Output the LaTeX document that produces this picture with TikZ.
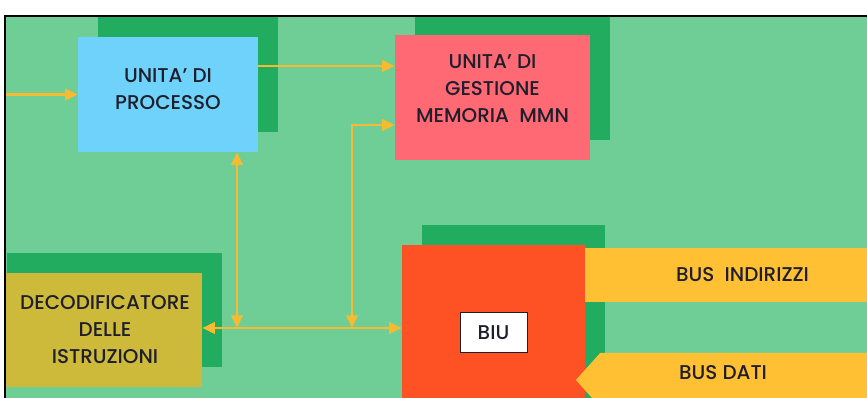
\documentclass[tikz,border=0pt]{standalone}
\usepackage{fontspec}
\setmainfont{Poppins}[UprightFont={* Medium}]
\usetikzlibrary{positioning,arrows.meta,shadows,shapes.symbols}
\definecolor{fondo}{RGB}{110,206,150}
\definecolor{ombra}{RGB}{34,172,96}
\definecolor{azzurro}{RGB}{110,210,250}
\definecolor{rosa}{RGB}{255,105,115}
\definecolor{oliva}{RGB}{205,186,58}
\definecolor{rosso}{RGB}{255,82,36}
\definecolor{giallo}{RGB}{255,192,52}
\definecolor{frecc}{RGB}{248,186,48}
\definecolor{testo}{RGB}{30,30,45}

\begin{document}
\begin{tikzpicture}[x=0.3mm,y=-0.3mm,
  >={Triangle[length=3.8mm,width=3.4mm]},
  scritta/.style={text=testo, align=center, font=\fontsize{17}{23}\selectfont},
  blocco/.style={inner sep=0pt, general shadow={fill=ombra, shadow xshift=6mm, shadow yshift=6mm}},
  fascia/.style={fill=giallo, inner sep=0pt, minimum height=16.2mm, scritta},
  freccia/.style={draw=frecc, line width=0.8mm}]
\useasboundingbox (0,0) rectangle (867,398);
\fill[fondo] (5,16) rectangle (867,398);
\begin{scope}
\clip (5,16) rectangle (867,398);
% blocchi con ombra
\node[blocco, fill=azzurro, minimum width=54mm, minimum height=34.5mm,
  label={[name=proctxt, yshift=1.5mm, scritta]center:UNITA' DI\\PROCESSO}] (proc) at (168,94.5) {};
\node[blocco, fill=rosa, minimum width=58.5mm, minimum height=37.5mm,
  label={[name=mmntxt, yshift=2.7mm, scritta]center:UNITA' DI\\GESTIONE\\MEMORIA\ \ MMN}] (mmn) at (492.5,97.5) {};
\node[blocco, fill=oliva, minimum width=64.5mm, minimum height=34.2mm,
  label={[name=dectxt, xshift=3.15mm, scritta]center:DECODIFICATORE\\DELLE\\ISTRUZIONI}] (dec) at (94.5,330) {};
\node[blocco, fill=rosso, minimum width=54.9mm, minimum height=54mm] (biu) at (493.5,335) {};
\node[draw=testo, fill=white, line width=0.3mm, scritta,
  minimum width=20.1mm, minimum height=12mm] (biulbl) at (493.5,333) {BIU};
% bus esterni
\node[fascia, minimum width=94.5mm] (busind) at (742.5,275) {BUS\ \ INDIRIZZI};
\node[fascia, signal, signal to=west, signal pointer angle=96, minimum width=93.6mm,
  label={[name=busdtxt, xshift=-6.3mm, yshift=2.1mm, scritta]center:BUS DATI}] (busdati) at (744,380) {};
% collegamenti interni
\coordinate (ingr) at (5,94.5);
\coordinate (alto) at (0,66);
\coordinate (basso) at (0,328);
\coordinate (j1) at (237,328);
\coordinate (j2) at (352,328);
\coordinate (m2) at (0,125);
\draw[freccia,->] (ingr) -- (proc.west);
\draw[freccia,->] (proc.east |- alto) -- (mmn.west |- alto);
\draw[freccia,<->] (dec.east |- basso) -- (biu.west |- basso);
\draw[freccia,<->] (j1 |- proc.south) -- (j1);
\draw[freccia,<->] (j2) |- (mmn.west |- m2);
\end{scope}
\draw[line width=0.5mm] (5,398) -- (5,16) -- (867,16);
\end{tikzpicture}
\end{document}
